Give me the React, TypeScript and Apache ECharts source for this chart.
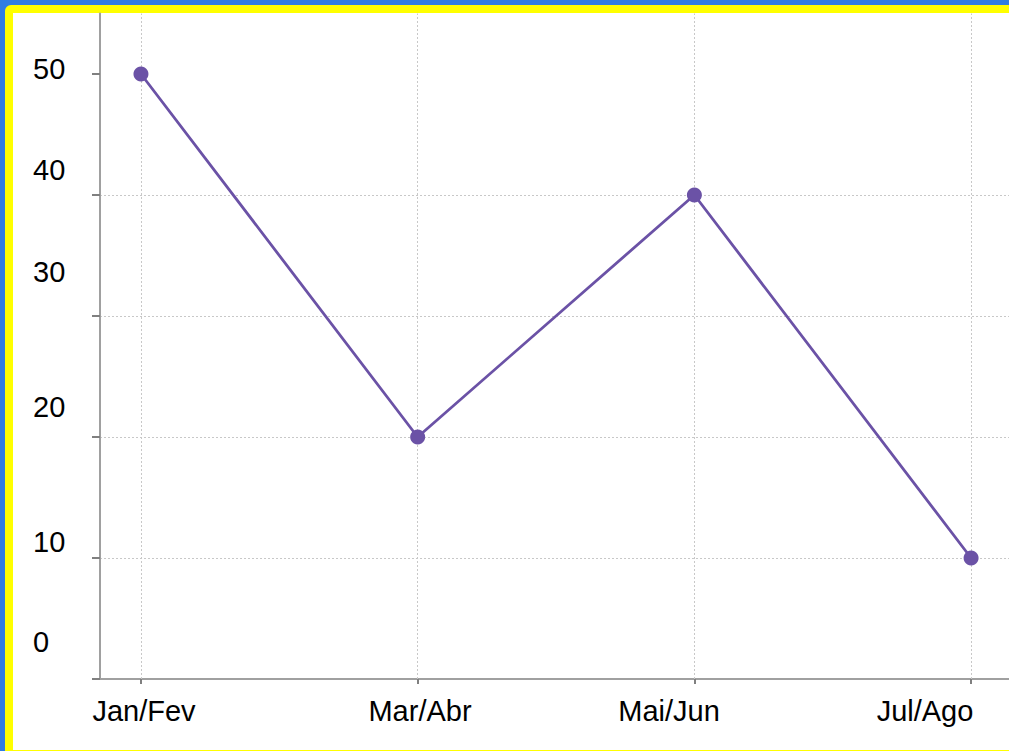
import React, { useEffect, useRef } from "react";
import * as echarts from "echarts";

const categories = ["Jan/Fev", "Mar/Abr", "Mai/Jun", "Jul/Ago"];
const values = [50, 20, 40, 10];
const yTickLabels = ["50", "40", "30", "20", "10", "0"];
const yTickValues = [0, 10, 20, 30, 40, 50];

// label placement (the reference labels are offset from their ticks)
const yLabelY = [69, 170, 272, 407, 542, 642];
const xLabelX = [144, 420, 669, 925];

const W = 1009;
const H = 751;

export default function App() {
  const ref = useRef<HTMLDivElement>(null);
  useEffect(() => {
    if (!ref.current) return;
    const chart = echarts.init(ref.current, undefined, { renderer: "svg" });
    const font = "Liberation Sans, Arial, sans-serif";
    const catIdx = categories.map((_, i) => i);
    const graphics: any[] = [];
    yTickLabels.forEach((t, i) => {
      graphics.push({
        type: "text",
        x: 33,
        y: yLabelY[i],
        style: { text: t, fontSize: 29, fontFamily: font, fill: "#000", textAlign: "left", textVerticalAlign: "middle" },
      });
    });
    categories.forEach((c, i) => {
      graphics.push({
        type: "text",
        x: xLabelX[i],
        y: 711,
        style: { text: c, fontSize: 29, fontFamily: font, fill: "#000", textAlign: "center", textVerticalAlign: "middle" },
      });
    });
    chart.setOption({
      animation: false,
      backgroundColor: "transparent",
      grid: { left: 100, top: 13.5, right: 0, bottom: 72, containLabel: false },
      xAxis: {
        type: "value",
        min: -0.148,
        max: 3.137,
        axisLine: { show: true, onZero: false, lineStyle: { color: "#a0a0a0", width: 2 } },
        axisTick: { show: true, customValues: catIdx, length: 5, lineStyle: { color: "#808080", width: 2 } },
        axisLabel: { show: false },
        splitLine: { show: false },
      },
      yAxis: {
        type: "value",
        min: 0,
        max: 55,
        interval: 10,
        axisLine: { show: true, onZero: false, lineStyle: { color: "#a0a0a0", width: 2 } },
        axisTick: { show: true, customValues: yTickValues, length: 8, lineStyle: { color: "#808080", width: 2 } },
        axisLabel: { show: false },
        splitLine: {
          show: true,
          showMinLine: false,
          showMaxLine: false,
          lineStyle: { color: "#c8c8c8", type: [2, 2], width: 1 },
        },
      },
      series: [
        {
          type: "line",
          z: 1,
          data: [],
          silent: true,
          markLine: {
            z: 1,
            silent: true,
            symbol: "none",
            label: { show: false },
            lineStyle: { color: "#c8c8c8", type: [2, 2], width: 1 },
            data: catIdx.map((i) => ({ xAxis: i })),
          },
        },
        {
          type: "line",
          z: 3,
          data: values.map((v, i) => [i, v]),
          symbol: "circle",
          symbolSize: 15,
          lineStyle: { color: "#6b52a6", width: 2.8 },
          itemStyle: { color: "#6b52a6", borderWidth: 0 },
        },
      ],
      graphic: graphics,
    });
    return () => chart.dispose();
  }, []);

  return (
    <div style={{ position: "fixed", left: 0, top: 0, width: W, height: H, overflow: "hidden", background: "#2f7de2" }}>
      <div
        style={{
          position: "absolute",
          left: 5,
          top: 5,
          width: W + 40,
          height: H + 2,
          boxSizing: "border-box",
          border: "8px solid #ffff00",
          borderRadius: 6,
          background: "#ffffff",
        }}
      />
      <div style={{ position: "absolute", left: 0, top: 0, width: W, height: H - 3 }}>
        <div ref={ref} style={{ width: W, height: H }} />
      </div>
    </div>
  );
}
